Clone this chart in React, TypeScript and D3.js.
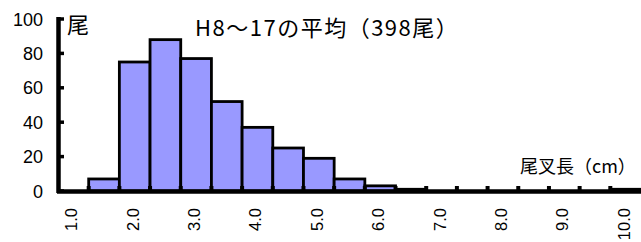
import React, { useEffect, useRef } from 'react';
import * as d3 from 'd3';

const categories = ['1.0', '1.5', '2.0', '2.5', '3.0', '3.5', '4.0', '4.5', '5.0', '5.5', '6.0', '6.5', '7.0', '7.5', '8.0', '8.5', '9.0', '9.5', '10.0'];
const counts = [0, 7, 75, 88, 77, 52, 37, 25, 19, 7, 3, 1, 0, 0, 0, 0, 0, 0, 1];
const yTicks = [0, 20, 40, 60, 80, 100];
const title = 'H8～17の平均（398尾）';
const yLabel = '尾';
const xLabel = '尾叉長（cm）';

const JP = '"Noto Sans CJK JP", sans-serif';
const NUM = '"Liberation Sans", Arial, sans-serif';

const App = () => {
  const svgRef = useRef<SVGSVGElement>(null);

  useEffect(() => {
    if (!svgRef.current) return;
    const svg = d3.select(svgRef.current);
    svg.selectAll('*').remove();

    const left = 58, right = 641, top = 19, bottom = 191;

    const x = d3.scaleBand().domain(categories).range([left, right]).padding(0);
    const y = d3.scaleLinear().domain([0, 100]).range([bottom, top]);

    // bars
    svg.append('g')
      .selectAll('rect')
      .data(categories.map((c, i) => ({ c, v: counts[i] })).filter(d => d.v > 0))
      .enter()
      .append('rect')
      .attr('x', d => x(d.c)!)
      .attr('y', d => y(d.v))
      .attr('width', x.bandwidth())
      .attr('height', d => y(0) - y(d.v))
      .attr('fill', '#9999ff')
      .attr('stroke', '#000')
      .attr('stroke-width', 2.8);

    // x axis line + ticks at bin boundaries
    svg.append('line')
      .attr('x1', left - 1).attr('x2', right)
      .attr('y1', y(0) + 0.5).attr('y2', y(0) + 0.5)
      .attr('stroke', '#000').attr('stroke-width', 4.5);

    svg.append('g')
      .selectAll('line')
      .data(categories.slice(1))
      .enter()
      .append('line')
      .attr('x1', d => x(d)!).attr('x2', d => x(d)!)
      .attr('y1', y(0)).attr('y2', y(0) - 5)
      .attr('stroke', '#000').attr('stroke-width', 4);

    // x labels, every other category, rotated
    svg.append('g')
      .selectAll('text')
      .data(categories.filter((_, i) => i % 2 === 0))
      .enter()
      .append('text')
      .attr('transform', d => `translate(${x(d)! + x.bandwidth() / 2 + 4},208) rotate(-90)`)
      .attr('text-anchor', 'end')
      .attr('font-family', NUM)
      .attr('font-size', 16.5)
      .text(d => d);

    // y axis
    svg.append('line')
      .attr('x1', left + 0.5).attr('x2', left + 0.5)
      .attr('y1', top - 2).attr('y2', bottom + 2)
      .attr('stroke', '#000').attr('stroke-width', 4.5);

    svg.append('g')
      .selectAll('line')
      .data(yTicks)
      .enter()
      .append('line')
      .attr('x1', left).attr('x2', left + 6)
      .attr('y1', d => y(d)).attr('y2', d => y(d))
      .attr('stroke', '#000').attr('stroke-width', 3.5);

    svg.append('g')
      .selectAll('text')
      .data(yTicks)
      .enter()
      .append('text')
      .attr('x', 43)
      .attr('y', d => y(d) + 6.5)
      .attr('text-anchor', 'end')
      .attr('font-family', NUM)
      .attr('font-size', 18)
      .text(d => d);

    svg.append('text')
      .attr('x', 67).attr('y', 33)
      .attr('font-family', JP)
      .attr('font-size', 22)
      .text(yLabel);

    svg.append('text')
      .attr('x', 195).attr('y', 36)
      .attr('font-family', JP)
      .attr('font-size', 22)
      .attr('letter-spacing', 1.5)
      .text(title);

    svg.append('text')
      .attr('x', 520).attr('y', 173)
      .attr('font-family', JP)
      .attr('font-size', 18)
      .text(xLabel);
  }, []);

  return (
    <div style={{ position: 'fixed', left: 0, top: 0 }}>
      <svg ref={svgRef} width={641} height={242} style={{ display: 'block', background: '#fff' }} />
    </div>
  );
};

export default App;
